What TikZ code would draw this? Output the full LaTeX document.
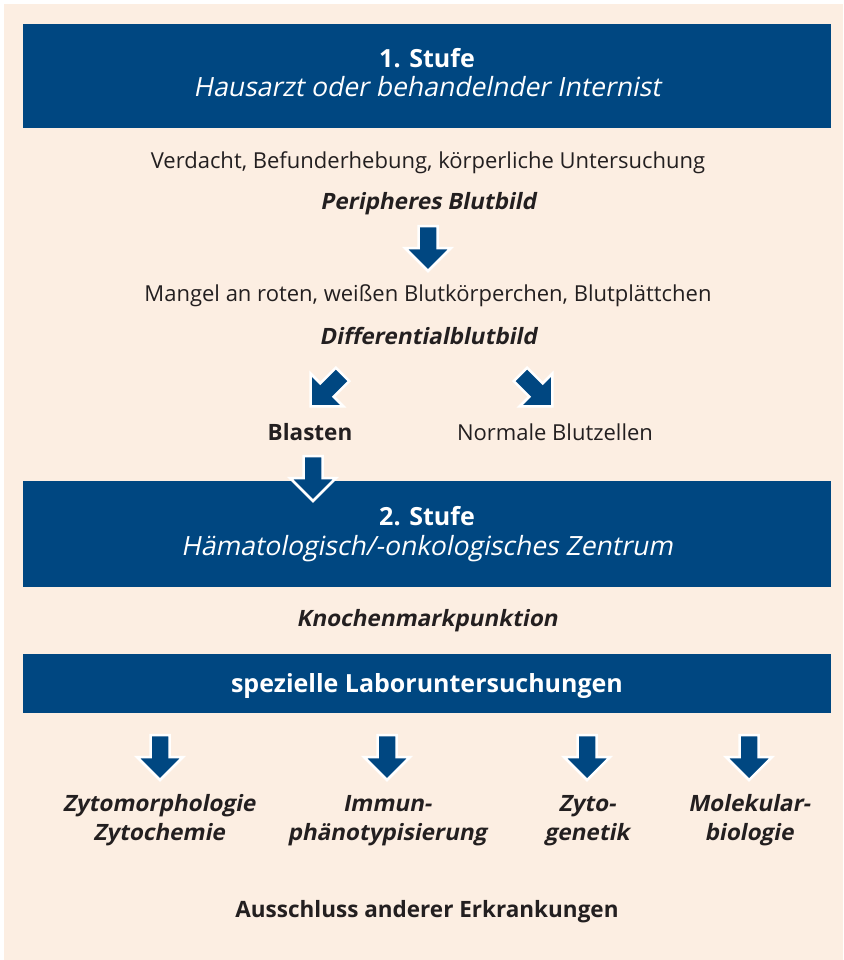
\documentclass[tikz,border=0pt]{standalone}
\usepackage{fontspec}
\setmainfont{Open Sans}
\newfontfamily\oblfont{Open Sans}[FakeSlant=0.2]
\definecolor{blu}{RGB}{0,71,129}
\definecolor{bg}{RGB}{252,238,226}
\definecolor{txt}{RGB}{35,31,32}
\tikzset{
  boxfill/.style={fill=blu},
  arrfill/.style={fill=blu,draw=white,line width=2.5pt,line join=miter},
  dnarrow/.pic={\path[arrfill] (-9.5,-22) -- (9.5,-22) -- (9.5,0) -- (23,0) -- (0,23) -- (-23,0) -- (-9.5,0) -- cycle;},
  plain/.style={text=txt,font=\fontsize{22}{26}\selectfont,anchor=base,inner sep=0pt},
  bolditl/.style={text=txt,font=\fontsize{22.5}{26}\selectfont\oblfont\bfseries,anchor=base,inner sep=0pt},
  boldtxt/.style={text=txt,font=\fontsize{22.5}{26}\selectfont\bfseries,anchor=base,inner sep=0pt},
  titlebold/.style={text=white,font=\fontsize{25}{28}\selectfont\bfseries,anchor=base,inner sep=0pt},
  titleitl/.style={text=white,font=\fontsize{26.5}{28}\selectfont\oblfont,anchor=base,inner sep=0pt},
  lbl/.style={text=txt,font=\fontsize{22.5}{29}\selectfont\oblfont\bfseries,anchor=base,inner sep=0pt,align=center},
}
\begin{document}
\begin{tikzpicture}[x=1pt,y=-1pt]
\useasboundingbox (0,0) rectangle (843,960);
\fill[bg] (4,4) rectangle (843,960);
% boxes
\fill[boxfill] (23,24) rectangle (831,128);
\fill[boxfill] (23,481) rectangle (831,587);
\fill[boxfill] (23,654) rectangle (831,713);
% texts
\node[titlebold] (s1) at (427,68) {1. Stufe};
\node[titleitl] (s1b) at (427,97) {Hausarzt oder behandelnder Internist};
\node[plain] (verd) at (428,168) {Verdacht, Befunderhebung, körperliche Untersuchung};
\node[bolditl] (peri) at (428,209) {Peripheres Blutbild};
\node[plain] (mang) at (428,301) {Mangel an roten, weißen Blutkörperchen, Blutplättchen};
\node[bolditl] (diff) at (428,344) {Differentialblutbild};
\node[boldtxt] (blast) at (310,440) {Blasten};
\node[plain] (norm) at (555,440) {Normale Blutzellen};
\node[titlebold] (s2) at (427,525) {2. Stufe};
\node[titleitl] (s2b) at (427,555) {Hämatologisch/-onkologisches Zentrum};
\node[bolditl] (knoch) at (427,626) {Knochenmarkpunktion};
\node[titlebold] (spez) at (427,692) {spezielle Laboruntersuchungen};
\node[lbl] (l1) at (159,840) {Zytomorphologie\\Zytochemie};
\node[lbl] (l2) at (387,840) {Immun-\\phänotypisierung};
\node[lbl] (l3) at (587,840) {Zyto-\\genetik};
\node[lbl] (l4) at (749,840) {Molekular-\\biologie};
\node[boldtxt] (aus) at (427,917) {Ausschluss anderer Erkrankungen};
% arrows
\pic at (428,248) {dnarrow};
\pic[rotate=-45] at (327,390) {dnarrow};
\pic[rotate=45] at (536,390) {dnarrow};
\pic at (313,478) {dnarrow};
\pic at (160,757) {dnarrow};
\pic at (387,757) {dnarrow};
\pic at (587,757) {dnarrow};
\pic at (749,757) {dnarrow};
\end{tikzpicture}
\end{document}
